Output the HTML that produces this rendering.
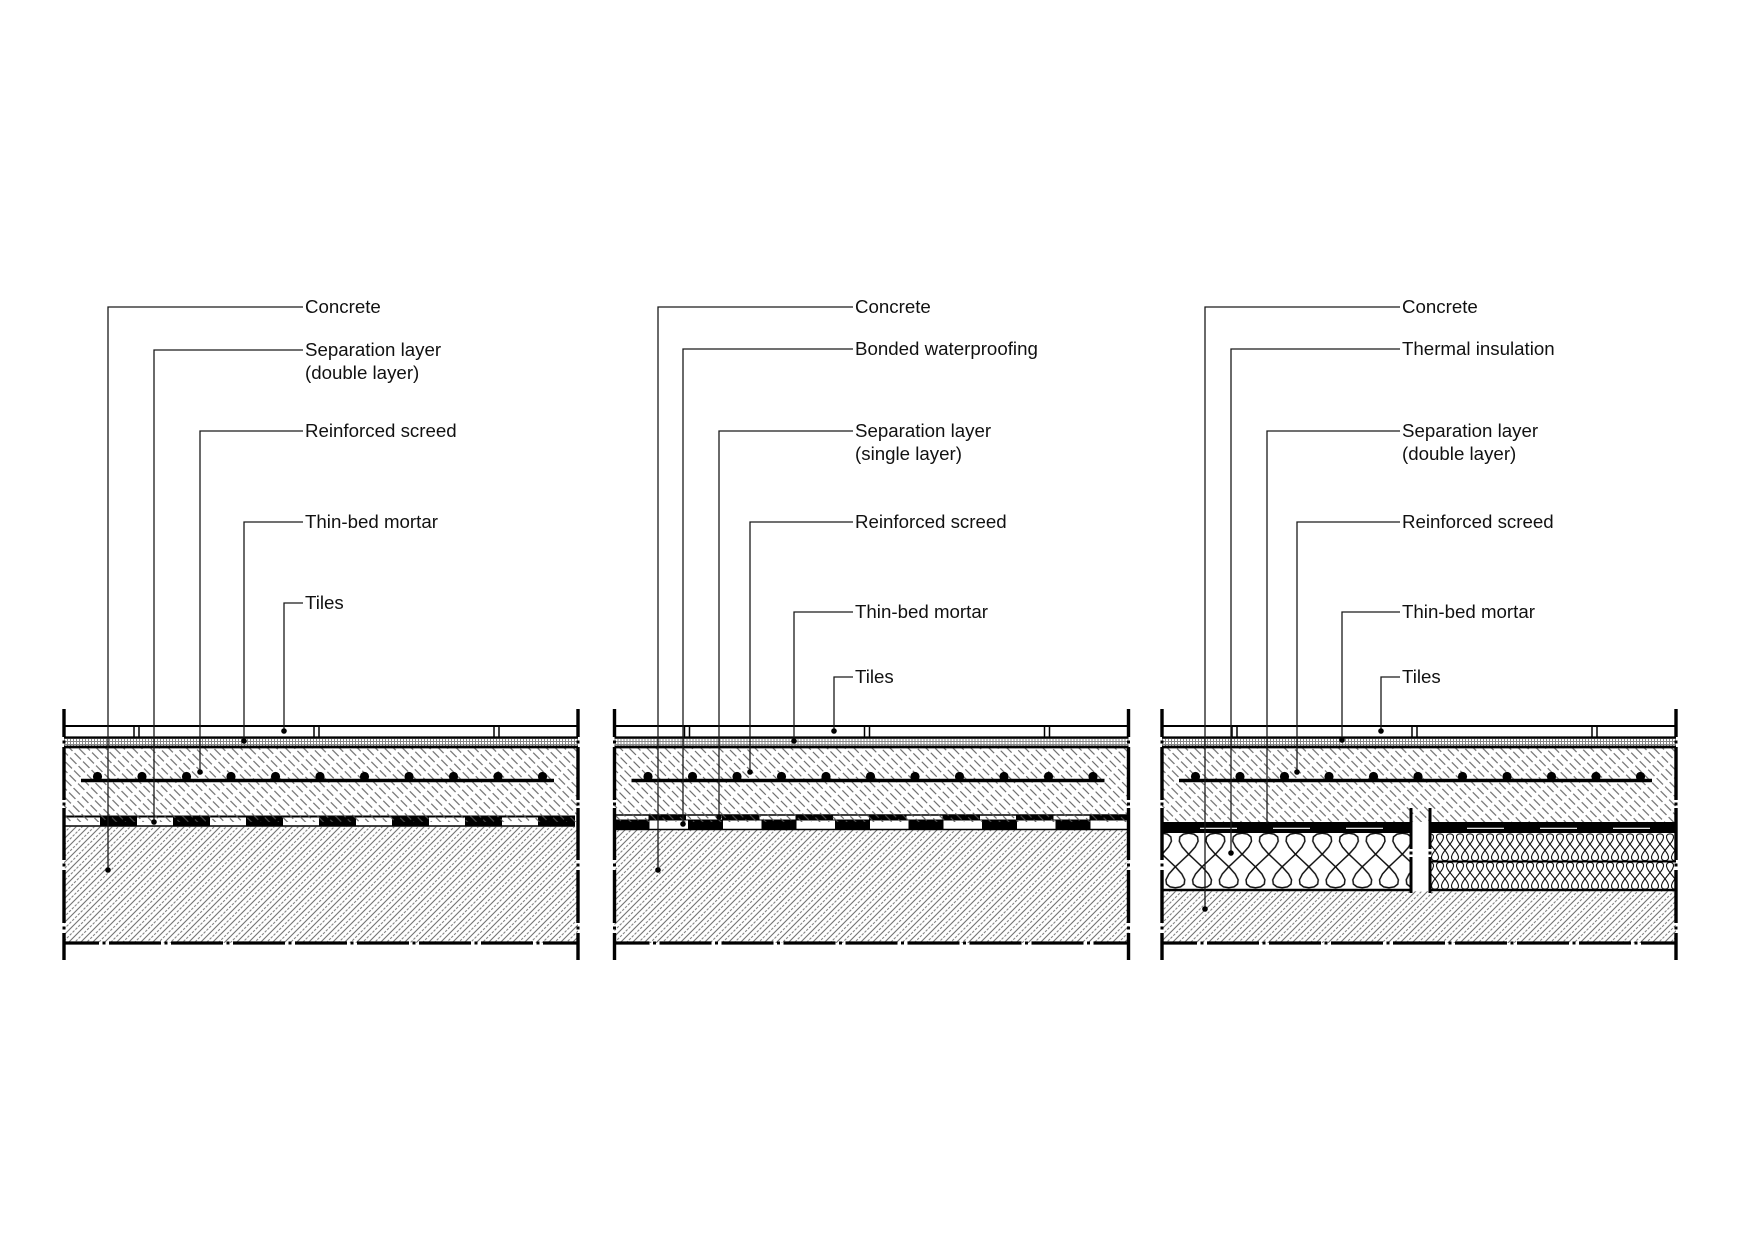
<!DOCTYPE html>
<html><head><meta charset="utf-8"><style>
html,body{margin:0;padding:0;background:#fff;}
svg{display:block;}
text{font-family:"Liberation Sans",Arial,sans-serif;font-size:18.7px;fill:#111;}
</style></head><body>
<svg width="1755" height="1240" viewBox="0 0 1755 1240" xmlns="http://www.w3.org/2000/svg">
<defs>
<pattern id="scr" patternUnits="userSpaceOnUse" width="12" height="6.364" patternTransform="rotate(45)">
<line x1="0" y1="3.18" x2="9" y2="3.18" stroke="#555" stroke-width="1"/>
</pattern>
<pattern id="con" patternUnits="userSpaceOnUse" width="8" height="8.485" patternTransform="rotate(-45)">
<line x1="0" y1="2.12" x2="8" y2="2.12" stroke="#555" stroke-width="0.9"/>
<line x1="0" y1="6.36" x2="2.6" y2="6.36" stroke="#666" stroke-width="0.9"/>
<line x1="4" y1="6.36" x2="6.6" y2="6.36" stroke="#666" stroke-width="0.9"/>
</pattern>
<pattern id="mor" patternUnits="userSpaceOnUse" width="3" height="3">
<rect width="3" height="3" fill="#fff"/>
<path d="M0,0.5H3M0.5,0V3" stroke="#888" stroke-width="1"/>
</pattern>
<path id="loopL" d="M0,1.2 L-5.26,2.13 L-8.82,4.86 L-9.41,9.2 L-6.59,14.85 L-0.81,21.43 L6.68,28.5 L14.16,35.57 L19.94,42.15 L22.76,47.8 L22.17,52.14 L18.61,54.87 L13.35,55.8 L8.09,54.87 L4.53,52.14 L3.94,47.8 L6.76,42.15 L12.54,35.57 L20.03,28.5 L27.51,21.43 L33.29,14.85 L36.11,9.2 L35.52,4.86 L31.96,2.13 L26.7,1.2" fill="none" stroke="#111" stroke-width="1.5" stroke-linejoin="round"/>
<path id="loopR" d="M0,0.8 L-1.97,1.26 L-3.3,2.6 L-3.52,4.74 L-2.47,7.53 L-0.3,10.77 L2.5,14.25 L5.3,17.73 L7.47,20.97 L8.52,23.76 L8.3,25.9 L6.97,27.24 L5,27.7 L3.03,27.24 L1.7,25.9 L1.48,23.76 L2.53,20.97 L4.7,17.73 L7.5,14.25 L10.3,10.77 L12.47,7.53 L13.52,4.74 L13.3,2.6 L11.97,1.26 L10,0.8" fill="none" stroke="#111" stroke-width="1.1" stroke-linejoin="round"/>
<pattern id="insL" patternUnits="userSpaceOnUse" x="1162" y="832" width="26.7" height="59">
<use href="#loopL" x="-26.7" y="0"/>
<use href="#loopL" x="0" y="0"/>
<use href="#loopL" x="26.7" y="0"/>
</pattern>
<pattern id="insR" patternUnits="userSpaceOnUse" x="1430" y="833" width="10" height="28.5">
<use href="#loopR" x="-10" y="0"/>
<use href="#loopR" x="0" y="0"/>
<use href="#loopR" x="10" y="0"/>
</pattern>
<g id="base">
<rect x="0" y="747" width="514" height="75" fill="url(#scr)"/>
<rect x="0" y="738" width="514" height="9" fill="url(#mor)"/>
<path d="M0,726H514" stroke="#000" stroke-width="2"/>
<path d="M0,737.5H514" stroke="#000" stroke-width="2.2"/>
<path d="M0,747H514" stroke="#000" stroke-width="2.8"/>
<path d="M70,726V737M75,726V737M250,726V737M255,726V737M430,726V737M435,726V737" stroke="#000" stroke-width="1.5"/>
<path d="M17,780.5H490" stroke="#000" stroke-width="3.6"/>
<g fill="#000">
<circle cx="33.5" cy="776.5" r="4.6"/><circle cx="78" cy="776.5" r="4.6"/><circle cx="122.5" cy="776.5" r="4.6"/><circle cx="167" cy="776.5" r="4.6"/><circle cx="211.5" cy="776.5" r="4.6"/><circle cx="256" cy="776.5" r="4.6"/><circle cx="300.5" cy="776.5" r="4.6"/><circle cx="345" cy="776.5" r="4.6"/><circle cx="389.5" cy="776.5" r="4.6"/><circle cx="434" cy="776.5" r="4.6"/><circle cx="478.5" cy="776.5" r="4.6"/>
</g>
<path d="M0,943H35M45,943H97M107,943H159M169,943H221M231,943H283M293,943H345M355,943H407M417,943H469M479,943H514" stroke="#000" stroke-width="3.2"/>
<g fill="#000">
<rect x="38.5" y="941.5" width="3" height="3"/><rect x="100.5" y="941.5" width="3" height="3"/><rect x="162.5" y="941.5" width="3" height="3"/><rect x="224.5" y="941.5" width="3" height="3"/><rect x="286.5" y="941.5" width="3" height="3"/><rect x="348.5" y="941.5" width="3" height="3"/><rect x="410.5" y="941.5" width="3" height="3"/><rect x="472.5" y="941.5" width="3" height="3"/>
</g>
<path d="M0,709V737M0,747V800M0,808V860M0,870V923M0,933V960M514,709V737M514,747V800M514,808V860M514,870V923M514,933V960" stroke="#000" stroke-width="3.4"/>
<g fill="#000">
<rect x="-1.5" y="740.5" width="3" height="3"/><rect x="-1.5" y="802.5" width="3" height="3"/><rect x="-1.5" y="863.5" width="3" height="3"/><rect x="-1.5" y="926.5" width="3" height="3"/>
<rect x="512.5" y="740.5" width="3" height="3"/><rect x="512.5" y="802.5" width="3" height="3"/><rect x="512.5" y="863.5" width="3" height="3"/><rect x="512.5" y="926.5" width="3" height="3"/>
</g>
</g>
</defs>
<rect width="1755" height="1240" fill="#fff"/>

<!-- PANEL 1 -->
<rect x="64" y="826.8" width="514" height="116" fill="url(#con)"/>
<rect x="64" y="816" width="511" height="10" fill="#fff"/>
<g fill="#000">
<rect x="100" y="817" width="37" height="9"/><rect x="173" y="817" width="37" height="9"/><rect x="246" y="817" width="37" height="9"/><rect x="319" y="817" width="37" height="9"/><rect x="392" y="817" width="37" height="9"/><rect x="465" y="817" width="37" height="9"/><rect x="538" y="817" width="37" height="9"/>
</g>
<path d="M64,816.5H575" stroke="#000" stroke-width="2"/>
<path d="M64,826H575" stroke="#000" stroke-width="1.5"/>
<use href="#base" x="64" y="0"/>

<!-- PANEL 2 -->
<rect x="614.5" y="830" width="514" height="113" fill="url(#con)"/>
<rect x="614.5" y="815" width="514" height="14.5" fill="#fff"/>
<g fill="#000">
<rect x="648.5" y="815" width="37.5" height="5"/><rect x="722" y="815" width="37.5" height="5"/><rect x="795.5" y="815" width="37.5" height="5"/><rect x="869" y="815" width="37.5" height="5"/><rect x="942.5" y="815" width="37.5" height="5"/><rect x="1016" y="815" width="37.5" height="5"/><rect x="1089.5" y="815" width="37.5" height="5"/>
<rect x="614.5" y="820" width="35" height="9.5"/><rect x="688" y="820" width="35" height="9.5"/><rect x="761.5" y="820" width="35" height="9.5"/><rect x="835" y="820" width="35" height="9.5"/><rect x="908.5" y="820" width="35" height="9.5"/><rect x="982" y="820" width="35" height="9.5"/><rect x="1055.5" y="820" width="35" height="9.5"/>
</g>
<path d="M614.5,815H1128.5" stroke="#000" stroke-width="1.6"/>
<path d="M614.5,820H1128.5" stroke="#000" stroke-width="1"/>
<path d="M614.5,829.5H1128.5" stroke="#000" stroke-width="1.6"/>
<use href="#base" x="614.5" y="0"/>

<!-- PANEL 3 -->
<rect x="1162" y="891.3" width="514" height="51.7" fill="url(#con)"/>
<rect x="1162" y="833" width="249" height="57" fill="url(#insL)"/>
<rect x="1430" y="833" width="246" height="57" fill="url(#insR)"/>
<rect x="1162" y="822" width="249" height="11" fill="#000"/>
<rect x="1430" y="822" width="246" height="11" fill="#000"/>
<path d="M1200,828.3H1409" stroke="#fff" stroke-width="1.2" stroke-dasharray="37 36"/>
<path d="M1467,828.3H1674" stroke="#fff" stroke-width="1.2" stroke-dasharray="37 36"/>
<path d="M1162,890H1411" stroke="#000" stroke-width="2.6"/>
<path d="M1430,861.5H1676" stroke="#000" stroke-width="2"/>
<path d="M1430,890H1676" stroke="#000" stroke-width="2.6"/>
<use href="#base" x="1162" y="0"/>
<rect x="1413" y="822" width="15" height="68" fill="#fff"/>
<path d="M1411,808V849M1411,857V893M1430,808V849M1430,857V893" stroke="#000" stroke-width="3"/>
<rect x="1409.5" y="851.5" width="3" height="3" fill="#000"/>
<rect x="1428.5" y="851.5" width="3" height="3" fill="#000"/>

<!-- LEADERS -->
<g stroke="#1a1a1a" stroke-width="1.3" fill="none">
<path d="M303,307H108V870"/>
<path d="M303,350H154V822"/>
<path d="M303,431H200V772"/>
<path d="M303,522H244V741"/>
<path d="M303,603H284V731"/>
<path d="M853,307H658V870"/>
<path d="M853,349H683V824"/>
<path d="M853,431H719V817"/>
<path d="M853,522H750V772"/>
<path d="M853,612H794V741"/>
<path d="M853,677H834V731"/>
<path d="M1400,307H1205V909"/>
<path d="M1400,349H1231V853"/>
<path d="M1400,431H1267V826"/>
<path d="M1400,522H1297V772"/>
<path d="M1400,612H1342V740"/>
<path d="M1400,677H1381V731"/>
</g>
<g fill="#000">
<circle cx="108" cy="870" r="2.8"/><circle cx="154" cy="822" r="2.8"/><circle cx="200" cy="772" r="2.8"/><circle cx="244" cy="741" r="2.8"/><circle cx="284" cy="731" r="2.8"/>
<circle cx="658" cy="870" r="2.8"/><circle cx="683" cy="824" r="2.8"/><circle cx="719" cy="817" r="2.8"/><circle cx="750" cy="772" r="2.8"/><circle cx="794" cy="741" r="2.8"/><circle cx="834" cy="731" r="2.8"/>
<circle cx="1205" cy="909" r="2.8"/><circle cx="1231" cy="853" r="2.8"/><circle cx="1267" cy="826" r="2.8"/><circle cx="1297" cy="772" r="2.8"/><circle cx="1342" cy="740" r="2.8"/><circle cx="1381" cy="731" r="2.8"/>
</g>

<!-- LABELS -->
<text x="305" y="313">Concrete</text>
<text x="305" y="356">Separation layer</text>
<text x="305" y="379">(double layer)</text>
<text x="305" y="437">Reinforced screed</text>
<text x="305" y="528">Thin-bed mortar</text>
<text x="305" y="609">Tiles</text>

<text x="855" y="313">Concrete</text>
<text x="855" y="355">Bonded waterproofing</text>
<text x="855" y="437">Separation layer</text>
<text x="855" y="460">(single layer)</text>
<text x="855" y="528">Reinforced screed</text>
<text x="855" y="618">Thin-bed mortar</text>
<text x="855" y="683">Tiles</text>

<text x="1402" y="313">Concrete</text>
<text x="1402" y="355">Thermal insulation</text>
<text x="1402" y="437">Separation layer</text>
<text x="1402" y="460">(double layer)</text>
<text x="1402" y="528">Reinforced screed</text>
<text x="1402" y="618">Thin-bed mortar</text>
<text x="1402" y="683">Tiles</text>
</svg>
</body></html>
